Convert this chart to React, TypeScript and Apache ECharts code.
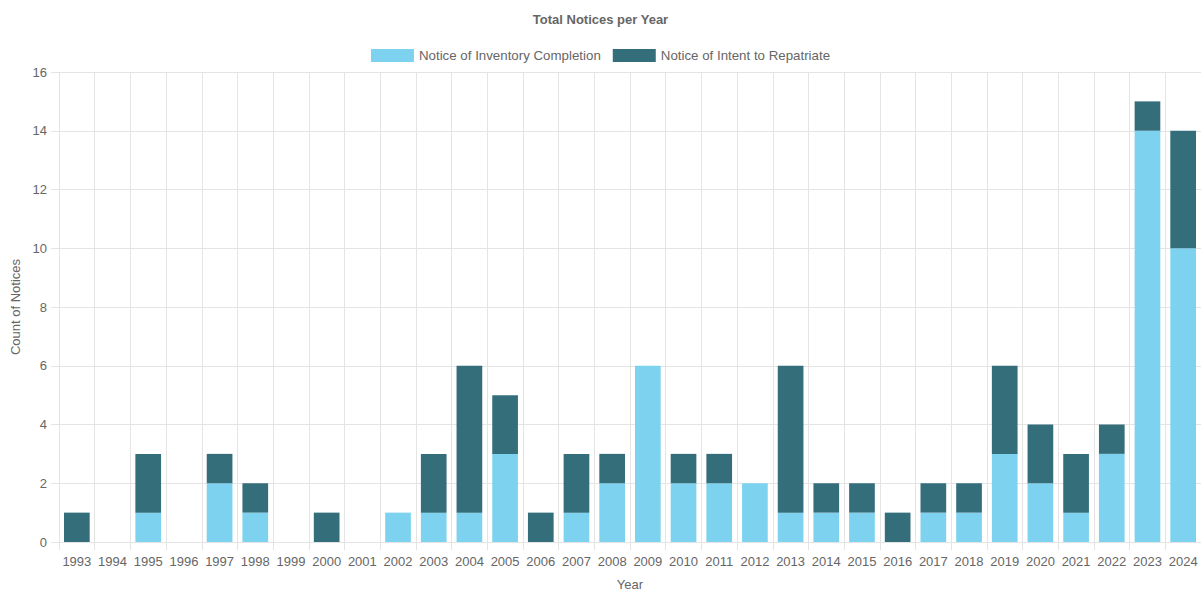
import React, { useEffect, useRef } from "react";
import * as echarts from "echarts";

const years = [
  "1993","1994","1995","1996","1997","1998","1999","2000","2001","2002","2003","2004","2005","2006","2007","2008",
  "2009","2010","2011","2012","2013","2014","2015","2016","2017","2018","2019","2020","2021","2022","2023","2024",
];
const inventoryCompletion = [0,0,1,0,2,1,0,0,0,1,1,1,3,0,1,2,6,2,2,2,1,1,1,0,1,1,3,2,1,3,14,10];
const intentToRepatriate = [1,0,2,0,1,1,0,1,0,0,2,5,2,1,2,1,0,1,1,0,5,1,1,1,1,1,3,2,2,1,1,4];

const LIGHT = "#7dd3ef";
const DARK = "#356e7b";
const GRID = "#e4e4e4";
const TEXT = "#666666";
const FONT = "'Liberation Sans', Arial, Helvetica, sans-serif";

export default function App() {
  const ref = useRef<HTMLDivElement>(null);
  useEffect(() => {
    if (!ref.current) return;
    const chart = echarts.init(ref.current, undefined, { renderer: "svg" });
    chart.setOption({
      animation: false,
      textStyle: { fontFamily: FONT },
      title: {
        text: "Total Notices per Year",
        left: "center",
        top: 8,
        textStyle: { fontSize: 13, fontWeight: "bold", color: TEXT, fontFamily: FONT },
      },
      legend: {
        top: 44,
        left: "center",
        itemWidth: 43,
        itemHeight: 13,
        itemGap: 12,
        icon: "rect",
        textStyle: { fontSize: 13.3, color: TEXT, fontFamily: FONT },
        data: ["Notice of Inventory Completion", "Notice of Intent to Repatriate"],
      },
      grid: { left: 59, right: -3, top: 72, bottom: 48, containLabel: false },
      xAxis: {
        type: "category",
        data: years,
        boundaryGap: true,
        name: "Year",
        nameLocation: "middle",
        nameGap: 36,
        nameTextStyle: { fontSize: 13, color: TEXT, fontFamily: FONT },
        axisLine: { show: true, lineStyle: { color: GRID } },
        axisTick: { show: true, length: 8, alignWithLabel: false, lineStyle: { color: GRID } },
        axisLabel: { color: TEXT, fontSize: 13, margin: 13, interval: 0, fontFamily: FONT },
        splitLine: { show: true, lineStyle: { color: GRID } },
      },
      yAxis: {
        type: "value",
        min: 0,
        max: 16,
        interval: 2,
        name: "Count of Notices",
        nameLocation: "middle",
        nameGap: 35,
        nameTextStyle: { fontSize: 13, color: TEXT, fontFamily: FONT },
        axisLine: { show: true, lineStyle: { color: GRID } },
        axisTick: { show: true, length: 8, lineStyle: { color: GRID } },
        axisLabel: { color: TEXT, fontSize: 13, margin: 12, fontFamily: FONT },
        splitLine: { show: true, lineStyle: { color: GRID } },
      },
      series: [
        {
          name: "Notice of Inventory Completion",
          type: "bar",
          stack: "total",
          data: inventoryCompletion,
          barWidth: "72%",
          itemStyle: { color: LIGHT },
        },
        {
          name: "Notice of Intent to Repatriate",
          type: "bar",
          stack: "total",
          data: intentToRepatriate,
          barWidth: "72%",
          itemStyle: { color: DARK },
        },
      ],
    });
    return () => chart.dispose();
  }, []);
  return <div ref={ref} style={{ width: 1201, height: 596, position: "absolute", left: 0, top: 0 }} />;
}
